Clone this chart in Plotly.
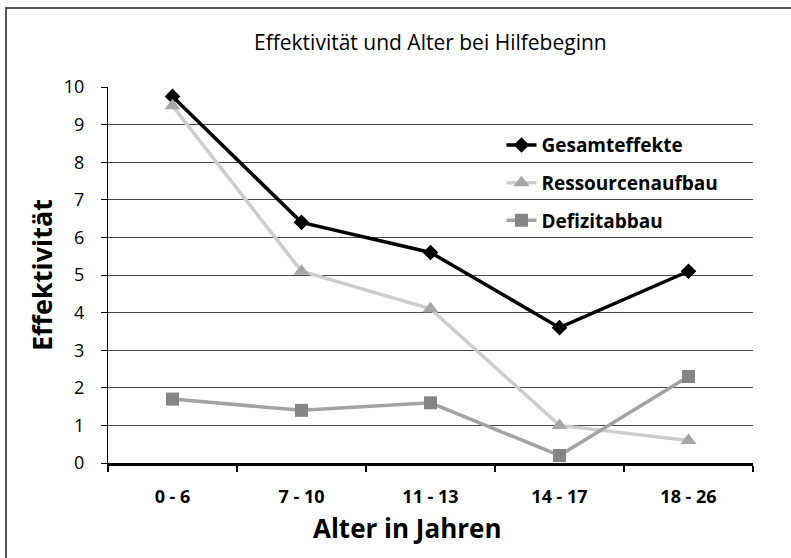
import plotly.graph_objects as go

categories = ["0 - 6", "7 - 10", "11 - 13", "14 - 17", "18 - 26"]
gesamteffekte = [9.75, 6.4, 5.6, 3.6, 5.1]
ressourcenaufbau = [9.5, 5.1, 4.1, 1.0, 0.6]
defizitabbau = [1.7, 1.4, 1.6, 0.2, 2.3]
y_ticks = [0, 1, 2, 3, 4, 5, 6, 7, 8, 9, 10]

W, H = 791, 558
L, R, T, B = 108, 38, 87, 95
PW, PH = W - L - R, H - T - B

fig = go.Figure()
fig.add_trace(go.Scatter(
    x=categories, y=gesamteffekte, name="Gesamteffekte", mode="lines+markers",
    line=dict(color="#000000", width=3.5),
    marker=dict(symbol="diamond", size=12, color="#000000"),
    legendgroup="a"))
fig.add_trace(go.Scatter(
    x=categories, y=ressourcenaufbau, name="Ressourcenaufbau", mode="lines+markers",
    line=dict(color="#cdcdcd", width=3.5),
    marker=dict(symbol="triangle-up", size=14, color="#a6a6a6"),
    legendgroup="b"))
fig.add_trace(go.Scatter(
    x=categories, y=defizitabbau, name="Defizitabbau", mode="lines+markers",
    line=dict(color="#a3a3a3", width=3.5),
    marker=dict(symbol="square", size=13, color="#858585"),
    legendgroup="c"))

font_main = "'Open Sans', sans-serif"

fig.update_layout(
    width=W, height=H,
    margin=dict(l=L, r=R, t=T, b=B, pad=0),
    plot_bgcolor="white", paper_bgcolor="white",
    font=dict(family=font_main, color="#000000"),
    showlegend=True,
    legend=dict(
        x=0.61, y=0.896, xanchor="left", yanchor="top",
        bgcolor="rgba(0,0,0,0)", borderwidth=0,
        font=dict(family=font_main, size=19, color="#000000", weight="bold"),
        tracegroupgap=10, itemwidth=30,
    ),
    xaxis=dict(
        type="category", range=[-0.5, 4.5],
        showgrid=False, showline=True, linecolor="#000000", linewidth=2.5,
        ticks="outside", ticklen=6, tickcolor="#000000", tickwidth=2,
        tickson="boundaries", ticklabelstandoff=16,
        tickfont=dict(family=font_main, size=18, color="#000000", weight="bold"),
        mirror=False, zeroline=False,
    ),
    yaxis=dict(
        range=[0, 10], tickvals=y_ticks, ticktext=[str(v) for v in y_ticks],
        showgrid=True, gridcolor="#4a4a4a", gridwidth=1,
        showline=True, linecolor="#000000", linewidth=1,
        ticks="outside", ticklen=6, tickcolor="#000000", tickwidth=1,
        tickfont=dict(family=font_main, size=18, color="#000000"),
        zeroline=False, ticklabelstandoff=13,
    ),
    annotations=[
        dict(text="Effektivität und Alter bei Hilfebeginn", xref="paper", yref="paper",
             x=(430 - L) / PW, y=(H - B - 42) / PH,
             xanchor="center", yanchor="middle", showarrow=False,
             font=dict(family=font_main, size=21, color="#000000")),
        dict(text="Alter in Jahren", xref="paper", yref="paper",
             x=(407 - L) / PW, y=(H - B - 528) / PH,
             xanchor="center", yanchor="middle", showarrow=False,
             font=dict(family=font_main, size=26, color="#000000", weight="bold")),
        dict(text="Effektivität", xref="paper", yref="paper", textangle=-90,
             x=(41 - L) / PW, y=0.5,
             xanchor="center", yanchor="middle", showarrow=False,
             font=dict(family=font_main, size=27, color="#000000", weight="bold")),
    ],
    shapes=[
        dict(type="rect", xref="paper", yref="paper",
             x0=(6 - L) / PW, x1=(820 - L) / PW,
             y0=(H - B - 600) / PH, y1=(H - B - 8) / PH,
             line=dict(color="#555555", width=2), fillcolor="rgba(0,0,0,0)",
             layer="below"),
    ],
)

fig.write_html("out.html", config={"displayModeBar": False},
               post_script="document.body.style.margin='0';")
